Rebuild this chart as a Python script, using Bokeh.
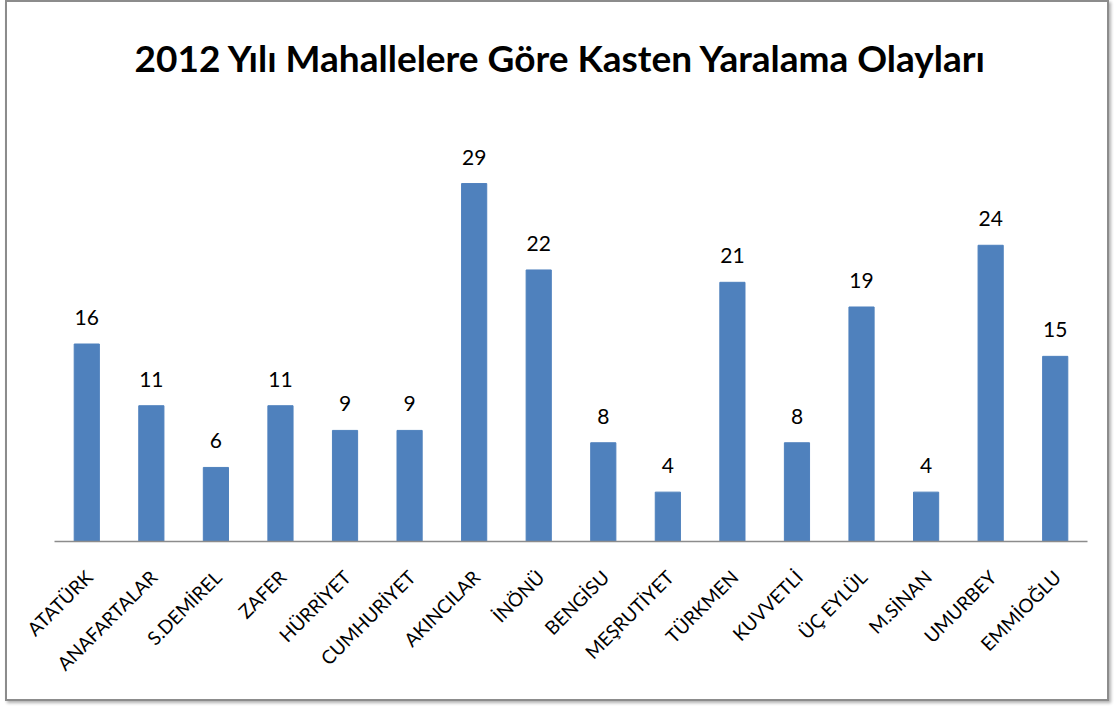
from bokeh.plotting import figure
from bokeh.models import ColumnDataSource, LabelSet, Range1d, FixedTicker, Title
from bokeh.core.properties import value
from bokeh.embed import file_html
from bokeh.resources import INLINE
import math

title_text = "2012 Yılı Mahallelere Göre Kasten Yaralama Olayları"
categories = ["ATATÜRK", "ANAFARTALAR", "S.DEMİREL", "ZAFER", "HÜRRİYET", "CUMHURİYET",
              "AKINCILAR", "İNÖNÜ", "BENGİSU", "MEŞRUTİYET", "TÜRKMEN", "KUVVETLİ",
              "ÜÇ EYLÜL", "M.SİNAN", "UMURBEY", "EMMİOĞLU"]
counts = [16, 11, 6, 11, 9, 9, 29, 22, 8, 4, 21, 8, 19, 4, 24, 15]

n = len(categories)
xpos = [i + 0.5 for i in range(n)]
LABEL_SHIFT = -0.03
tick_pos = [x - LABEL_SHIFT for x in xpos]

src = ColumnDataSource(data=dict(x=xpos, val=counts, lbl=[str(v) for v in counts]))

FONT = "Lato"

p = figure(x_range=Range1d(0, n), y_range=Range1d(0, 35),
           width=1104, height=701, output_backend="svg", toolbar_location=None,
           min_border_left=47, min_border_right=24, min_border_top=107, min_border_bottom=162)
p.styles = {"border": "2px solid #8c8c8c", "box-shadow": "2px 2px 3px #b0b0b0",
            "box-sizing": "border-box", "margin-left": "5px"}
p.outline_line_color = None
p.xgrid.grid_line_color = None
p.ygrid.grid_line_color = None
p.yaxis.visible = False

p.vbar(x="x", top="val", width=0.39, source=src, fill_color="#4F81BD", line_color="#4F81BD")

labels = LabelSet(x="x", y="val", text="lbl", source=src, text_align="center",
                  text_baseline="bottom", y_offset=19, text_font=value(FONT),
                  text_font_size="21px", text_color="#000000")
p.add_layout(labels)

t = Title(text=title_text, align="left", offset=80, standoff=60, text_font=FONT,
          text_font_style="bold", text_font_size="37px", text_color="#000000")
p.add_layout(t, "above")

ax = p.xaxis[0]
ax.ticker = FixedTicker(ticks=tick_pos)
ax.major_label_overrides = {tp: c for tp, c in zip(tick_pos, categories)}
ax.axis_line_color = "#8c8c8c"
ax.axis_line_width = 1.5
ax.major_tick_line_color = None
ax.minor_tick_line_color = None
ax.major_label_orientation = math.pi / 4
ax.major_label_text_font = FONT
ax.major_label_text_font_size = "19px"
ax.major_label_text_color = "#000000"
ax.major_label_standoff = 26

open("out.html", "w").write(file_html(p, INLINE))
